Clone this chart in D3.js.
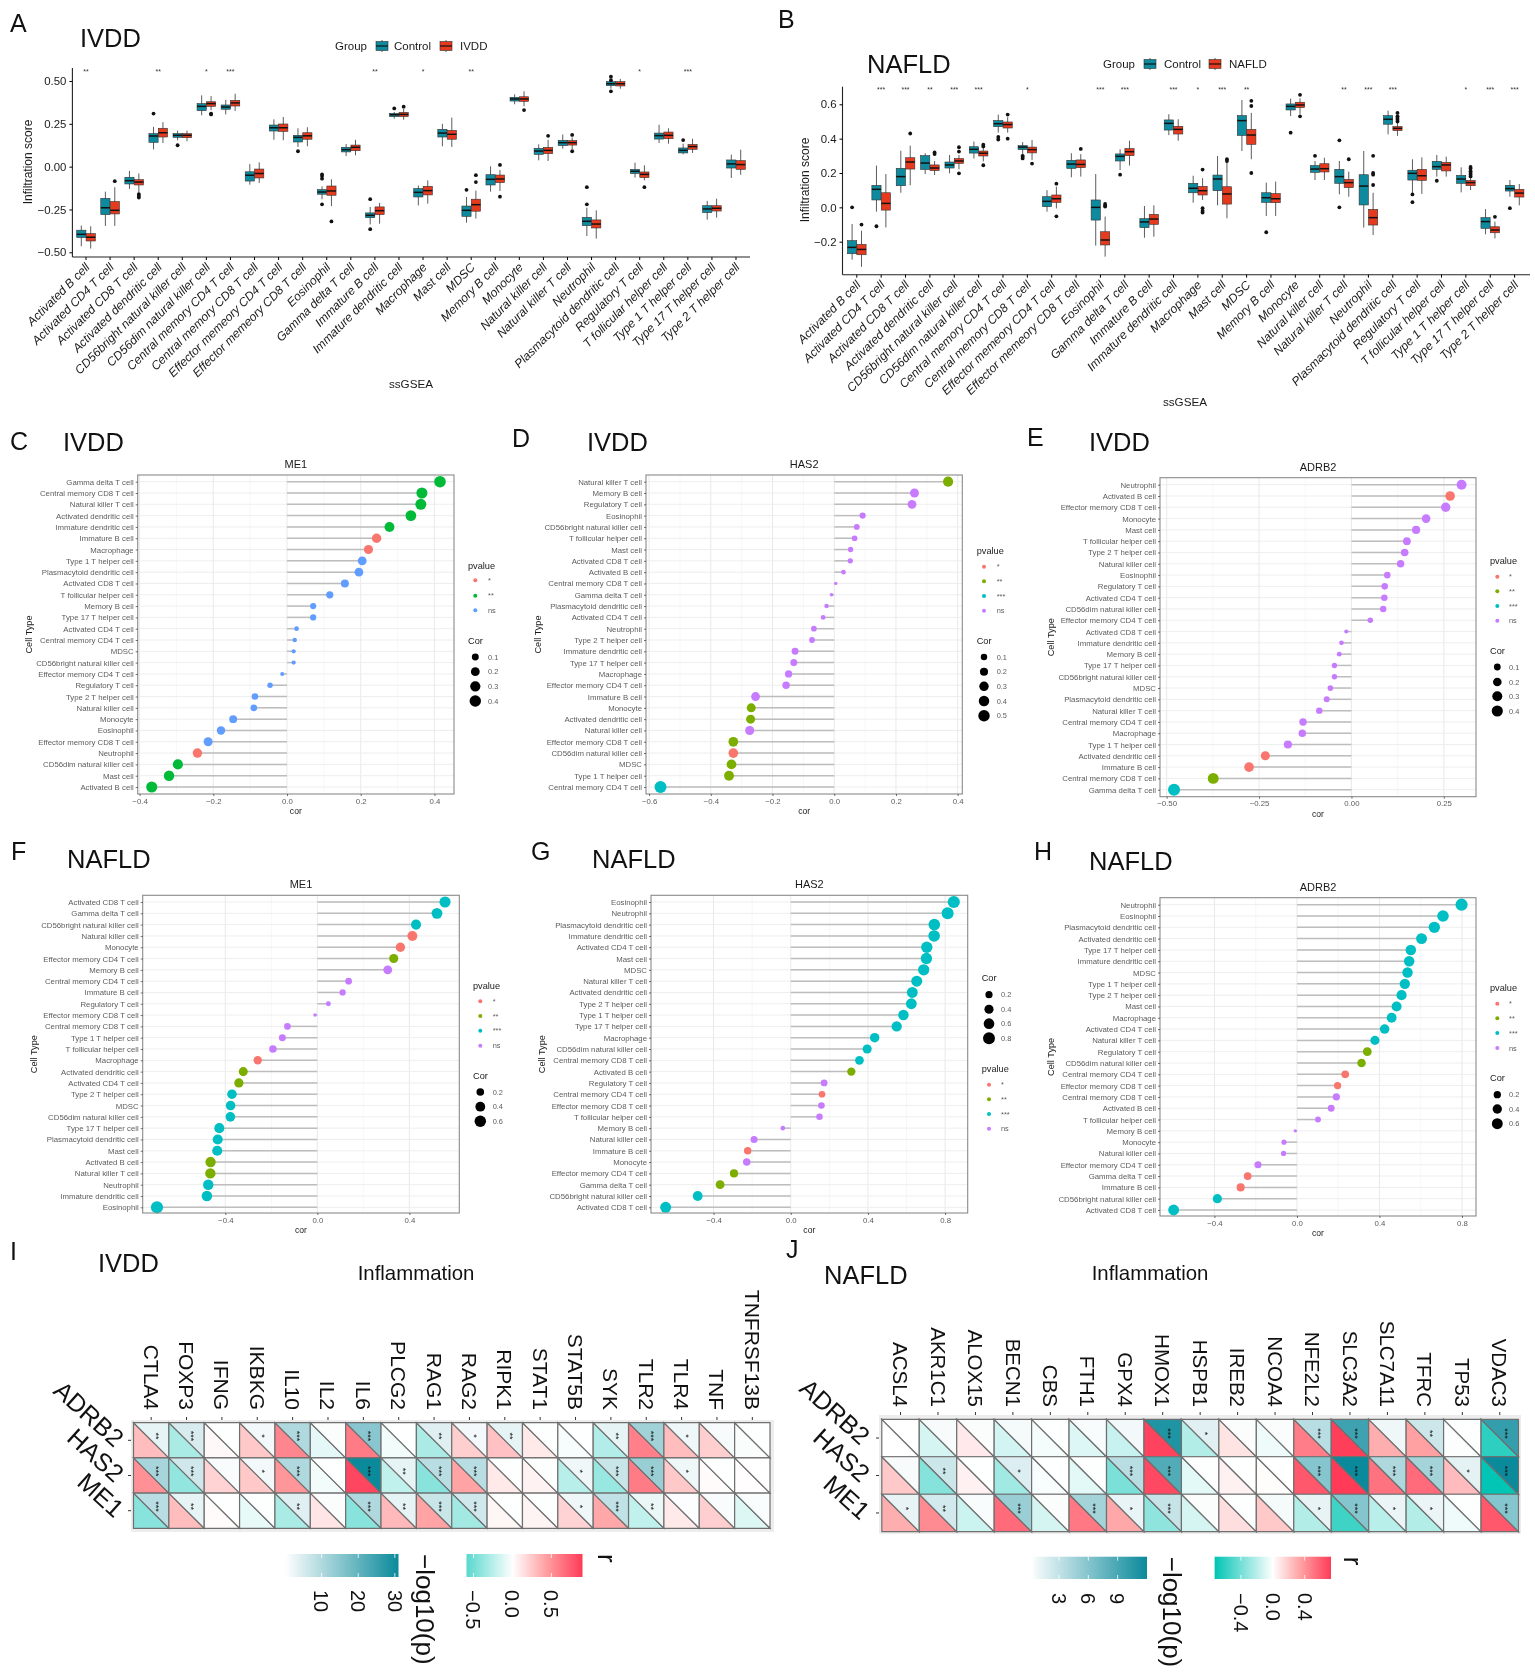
<!DOCTYPE html>
<html><head><meta charset="utf-8">
<style>
html,body{margin:0;padding:0;background:#fff}
svg{display:block;font-family:"Liberation Sans",Arial,sans-serif;filter:blur(0.6px)}
</style>
<script src="https://cdn.jsdelivr.net/npm/d3@7"></script></head><body>
<svg id="fig" width="1535" height="1679"></svg>
<script>
// ---------- Panels A / B: box plots ([low whisker, q1, median, q3, high whisker]) ----------
const cellTypes=["Activated B cell","Activated CD4 T cell","Activated CD8 T cell","Activated dendritic cell","CD56bright natural killer cell","CD56dim natural killer cell","Central memory CD4 T cell","Central memory CD8 T cell","Effector memeory CD4 T cell","Effector memeory CD8 T cell","Eosinophil","Gamma delta T cell","Immature  B cell","Immature dendritic cell","Macrophage","Mast cell","MDSC","Memory B cell","Monocyte","Natural killer cell","Natural killer T cell","Neutrophil","Plasmacytoid dendritic cell","Regulatory T cell","T follicular helper cell","Type 1 T helper cell","Type 17 T helper cell","Type 2 T helper cell"];
const boxA_control=[[-.465,-.414,-.395,-.371,-.344],[-.346,-.28,-.24,-.185,-.146],[-.13,-.101,-.082,-.062,-.025],[.101,.142,.179,.193,.232],[.154,.171,.183,.193,.21],[.30,.327,.352,.368,.416],[.305,.335,.348,.36,.39],[-.105,-.084,-.05,-.03,.015],[.157,.208,.227,.243,.276],[.115,.144,.171,.183,.224],[-.19,-.161,-.148,-.134,-.115],[.062,.086,.099,.113,.132],[-.337,-.298,-.284,-.27,-.235],[.28,.292,.303,.311,.319],[-.226,-.177,-.15,-.128,-.11],[.119,.173,.196,.218,.25],[-.327,-.29,-.255,-.23,-.177],[-.146,-.107,-.074,-.047,.002],[.364,.383,.395,.405,.422],[.037,.072,.091,.107,.13],[.105,.123,.14,.154,.188],[-.405,-.344,-.319,-.296,-.24],[.455,.473,.484,.496,.508],[-.064,-.04,-.027,-.016,.023],[.138,.161,.181,.196,.245],[.072,.08,.095,.109,.134],[-.309,-.268,-.247,-.228,-.2],[-.066,-.008,.016,.039,.07]];
const boxA_ivdd=[[-.478,-.434,-.412,-.391,-.348],[-.346,-.276,-.255,-.204,-.12],[-.15,-.107,-.09,-.076,-.04],[.138,.173,.198,.224,.26],[.148,.169,.183,.193,.21],[.33,.352,.368,.379,.412],[.325,.354,.372,.387,.426],[-.095,-.066,-.04,-.014,.025],[.154,.206,.227,.249,.29],[.119,.16,.18,.198,.23],[-.23,-.167,-.142,-.113,-.074],[.066,.093,.113,.126,.157],[-.333,-.28,-.257,-.235,-.212],[.274,.292,.305,.317,.338],[-.216,-.165,-.14,-.115,-.08],[.115,.16,.189,.212,.286],[-.303,-.26,-.222,-.19,-.14],[-.142,-.093,-.072,-.049,-.02],[.352,.381,.395,.408,.44],[.033,.076,.095,.113,.157],[.103,.126,.14,.152,.17],[-.42,-.358,-.335,-.311,-.255],[.455,.471,.484,.496,.512],[-.08,-.064,-.045,-.031,.008],[.134,.163,.183,.202,.224],[.08,.101,.117,.13,.163],[-.298,-.259,-.243,-.228,-.187],[-.047,-.016,.012,.035,.099]];
const outA_control=[[],[],[],[.31],[.125],[],[],[],[],[.09],[-.045,-.055,-.07,-.22],[],[-.19,-.365],[.34],[],[],[-.135],[],[],[],[],[-.12,-.22],[.525,.505,.44],[],[],[.155],[],[]];
const outA_ivdd=[[],[-.085],[-.16,-.17,-.18],[],[],[.31,.305],[],[],[],[],[-.32],[],[],[.35],[],[],[-.05,-.09],[.01,-.175],[.33],[.18],[.185,.09],[],[],[-.12],[],[],[],[]];
const sigA=["**","","","**","","*","***","","","","","","**","","*","","**","","","","","","","*","","***","",""];
const boxB_control=[[-.305,-.27,-.233,-.194,-.097],[-.025,.043,.105,.128,.243],[.085,.126,.179,.227,.33],[.194,.221,.258,.301,.315],[.198,.229,.247,.264,.305],[.284,.316,.338,.353,.383],[.435,.47,.487,.505,.54],[.305,.336,.351,.359,.38],[-.025,.004,.035,.062,.1],[.175,.227,.252,.274,.315],[-.223,-.074,0,.043,.194],[.217,.27,.297,.311,.338],[-.177,-.118,-.085,-.066,.008],[.421,.45,.489,.509,.542],[.027,.085,.111,.14,.184],[.012,.097,.165,.188,.299],[.328,.419,.505,.534,.625],[-.05,.029,.056,.085,.144],[.532,.567,.588,.602,.633],[.159,.204,.223,.243,.27],[.076,.14,.179,.221,.27],[-.118,.014,.124,.19,.328],[.425,.484,.513,.534,.563],[.082,.159,.198,.216,.28],[.179,.221,.237,.268,.305],[.087,.14,.165,.186,.233],[-.157,-.122,-.083,-.06,-.01],[.062,.095,.109,.128,.159]];
const boxB_nafld=[[-.346,-.276,-.245,-.216,-.136],[-.117,-.016,.023,.085,.194],[.128,.223,.264,.289,.359],[.188,.214,.229,.247,.27],[.221,.256,.27,.284,.305],[.268,.299,.315,.328,.353],[.435,.462,.482,.497,.525],[.276,.317,.336,.351,.392],[-.006,.029,.05,.072,.12],[.179,.231,.25,.276,.31],[-.287,-.219,-.19,-.142,-.054],[.243,.301,.324,.342,.388],[-.171,-.099,-.068,-.041,.012],[.388,.427,.454,.472,.513],[.043,.072,.097,.122,.17],[-.064,.019,.078,.12,.27],[.28,.367,.421,.454,.55],[-.05,.027,.05,.08,.15],[.544,.581,.596,.612,.635],[.159,.206,.225,.254,.289],[.062,.115,.144,.163,.208],[-.161,-.103,-.06,-.012,.085],[.416,.447,.46,.47,.49],[.078,.157,.184,.221,.291],[.179,.212,.247,.262,.295],[.101,.126,.144,.157,.179],[-.181,-.148,-.132,-.113,-.083],[.012,.06,.083,.105,.136]];
const outB_control=[[0],[-.11],[],[],[],[],[.395,.41],[.285,.295,.3],[],[],[],[.19],[],[],[],[],[],[-.145],[.435],[.3],[.39,0],[],[],[.075,.03],[.155],[],[],[-.005]];
const outB_nafld=[[-.1],[],[.43],[.32,.31],[.35,.325,.198],[.365,.355,.245],[.54,.4],[.255],[.138,-.052],[.34],[.02,.01,.005],[],[],[],[.22,-.005,-.02,-.03],[.28,.27],[.62,.59,.2],[],[.655,.53],[],[.28],[.3,.2,.19,.13],[.55,.53,.52,.51,.5],[],[],[.235,.225,.21,.2,.19,.18],[-.055],[]];
const sigB=["","***","***","**","***","***","","*","","","***","***","","***","*","***","**","","","","**","***","***","","","*","***","***"];

// ---------- Panels C-H: lollipops (names, correlation, significance) ----------
const namesC=["Gamma delta T cell","Central memory CD8 T cell","Natural killer T cell","Activated dendritic cell","Immature dendritic cell","Immature  B cell","Macrophage","Type 1 T helper cell","Plasmacytoid dendritic cell","Activated CD8 T cell","T follicular helper cell","Memory B cell","Type 17 T helper cell","Activated CD4 T cell","Central memory CD4 T cell","MDSC","CD56bright natural killer cell","Effector memory CD4 T cell","Regulatory T cell","Type 2 T helper cell","Natural killer cell","Monocyte","Eosinophil","Effector memory CD8 T cell","Neutrophil","CD56dim natural killer cell","Mast cell","Activated B cell"];
const corC=[.415,.366,.363,.336,.278,.243,.221,.204,.195,.157,.116,.071,.071,.026,.021,.018,.018,-.013,-.046,-.087,-.09,-.146,-.179,-.214,-.243,-.296,-.32,-.367];
const sigC=["**","**","**","**","**","*","*","ns","ns","ns","ns","ns","ns","ns","ns","ns","ns","ns","ns","ns","ns","ns","ns","ns","*","**","**","**"];
const namesD=["Natural killer T cell","Memory B cell","Regulatory T cell","Eosinophil","CD56bright natural killer cell","T follicular helper cell","Mast cell","Activated CD8 T cell","Activated B cell","Central memory CD8 T cell","Gamma delta T cell","Plasmacytoid dendritic cell","Activated CD4 T cell","Neutrophil","Type 2 T helper cell","Immature dendritic cell","Type 17 T helper cell","Macrophage","Effector memory CD4 T cell","Immature  B cell","Monocyte","Activated dendritic cell","Natural killer cell","Effector memory CD8 T cell","CD56dim natural killer cell","MDSC","Type 1 T helper cell","Central memory CD4 T cell"];
const corD=[.369,.26,.252,.092,.073,.066,.053,.052,.03,.005,-.009,-.025,-.036,-.066,-.072,-.127,-.131,-.148,-.156,-.255,-.269,-.271,-.274,-.327,-.327,-.333,-.341,-.563];
const sigD=["**","ns","ns","ns","ns","ns","ns","ns","ns","ns","ns","ns","ns","ns","ns","ns","ns","ns","ns","ns","**","**","ns","**","*","**","**","***"];
const namesE=["Neutrophil","Activated B cell","Effector memory CD8 T cell","Monocyte","Mast cell","T follicular helper cell","Type 2 T helper cell","Natural killer cell","Eosinophil","Regulatory T cell","Activated CD4 T cell","CD56dim natural killer cell","Effector memory CD4 T cell","Activated CD8 T cell","Immature dendritic cell","Memory B cell","Type 17 T helper cell","CD56bright natural killer cell","MDSC","Plasmacytoid dendritic cell","Natural killer T cell","Central memory CD4 T cell","Macrophage","Type 1 T helper cell","Activated dendritic cell","Immature  B cell","Central memory CD8 T cell","Gamma delta T cell"];
const corE=[.298,.267,.255,.202,.175,.15,.144,.133,.097,.09,.089,.086,.051,-.014,-.027,-.033,-.046,-.046,-.057,-.067,-.087,-.131,-.133,-.172,-.233,-.277,-.374,-.48];
const sigE=["ns","*","ns","ns","ns","ns","ns","ns","ns","ns","ns","ns","ns","ns","ns","ns","ns","ns","ns","ns","ns","ns","ns","ns","*","*","**","***"];
const namesF=["Activated CD8 T cell","Gamma delta T cell","CD56bright natural killer cell","Natural killer cell","Monocyte","Effector memory CD4 T cell","Memory B cell","Central memory CD4 T cell","Immature  B cell","Regulatory T cell","Effector memory CD8 T cell","Central memory CD8 T cell","Type 1 T helper cell","T follicular helper cell","Macrophage","Activated dendritic cell","Activated CD4 T cell","Type 2 T helper cell","MDSC","CD56dim natural killer cell","Type 17 T helper cell","Plasmacytoid dendritic cell","Mast cell","Activated B cell","Natural killer T cell","Neutrophil","Immature dendritic cell","Eosinophil"];
const corF=[.555,.52,.429,.413,.361,.332,.306,.136,.11,.048,-.01,-.13,-.152,-.193,-.259,-.322,-.341,-.371,-.377,-.378,-.426,-.433,-.435,-.464,-.465,-.474,-.48,-.697];
const sigF=["***","***","***","*","*","**","ns","ns","ns","ns","ns","ns","ns","ns","*","**","**","***","***","***","***","***","***","**","**","***","***","***"];
const namesG=["Eosinophil","Neutrophil","Plasmacytoid dendritic cell","Immature dendritic cell","Activated CD4 T cell","Mast cell","MDSC","Natural killer T cell","Activated dendritic cell","Type 2 T helper cell","Type 1 T helper cell","Type 17 T helper cell","Macrophage","CD56dim natural killer cell","Central memory CD8 T cell","Activated B cell","Regulatory T cell","Central memory CD4 T cell","Effector memory CD8 T cell","T follicular helper cell","Memory B cell","Natural killer cell","Immature  B cell","Monocyte","Effector memory CD4 T cell","Gamma delta T cell","CD56bright natural killer cell","Activated CD8 T cell"];
const corG=[.845,.813,.744,.743,.705,.703,.689,.653,.63,.625,.584,.549,.435,.396,.356,.314,.173,.162,.159,.149,-.041,-.19,-.223,-.228,-.294,-.366,-.482,-.648];
const sigG=["***","***","***","***","***","***","***","***","***","***","***","***","***","***","***","**","ns","*","ns","ns","ns","ns","*","ns","**","**","***","***"];
const namesH=["Neutrophil","Eosinophil","Plasmacytoid dendritic cell","Activated dendritic cell","Type 17 T helper cell","Immature dendritic cell","MDSC","Type 1 T helper cell","Type 2 T helper cell","Mast cell","Macrophage","Activated CD4 T cell","Natural killer T cell","Regulatory T cell","CD56dim natural killer cell","Central memory CD4 T cell","Effector memory CD8 T cell","Central memory CD8 T cell","Activated B cell","T follicular helper cell","Memory B cell","Monocyte","Natural killer cell","Effector memory CD4 T cell","Gamma delta T cell","Immature  B cell","CD56bright natural killer cell","Activated CD8 T cell"];
const corH=[.798,.708,.666,.604,.552,.544,.536,.523,.507,.483,.459,.425,.378,.341,.313,.234,.197,.191,.166,.102,-.008,-.063,-.065,-.189,-.239,-.273,-.386,-.598];
const sigH=["***","***","***","***","***","***","***","***","***","***","***","***","***","**","**","*","*","ns","ns","ns","ns","ns","ns","ns","*","*","***","***"];

// ---------- Panels I / J: triangle heatmaps ----------
const rowsHeat=["ADRB2","HAS2","ME1"];
const genesI=["CTLA4","FOXP3","IFNG","IKBKG","IL10","IL2","IL6","PLCG2","RAG1","RAG2","RIPK1","STAT1","STAT5B","SYK","TLR2","TLR4","TNF","TNFRSF13B"];
const rI=[[.3,-.3,.03,.25,.55,-.1,.6,-.05,-.3,.22,.28,.1,-.03,-.27,.58,.3,.22,-.02],[.5,-.38,.2,.25,.48,-.05,.85,-.22,-.42,.42,.1,.06,-.25,-.36,.6,.25,.02,.01],[-.42,.3,.02,-.08,-.3,.12,-.42,.32,.42,-.33,.04,.05,.2,.4,-.22,.1,.22,-.12]];
const pI=[[3,5,.1,1.5,10,.5,15,.1,4,1.5,3,.3,.1,3,12,2,1,.1],[11,6,.8,1.5,10,.1,32,3,9,9,.3,.2,2,7,13,2,.1,.05],[9,3,.1,.2,4,.5,10,3,7,6,.1,.2,2,8,2.5,.4,.8,.6]];
const starsI=[["**","***","","*","***","","***","","**","*","**","","","**","***","*","",""],["***","***","","*","***","","***","**","***","***","","","*","***","***","*","",""],["***","**","","","**","","***","**","***","***","","","*","***","**","","",""]];
const genesJ=["ACSL4","AKR1C1","ALOX15","BECN1","CBS","FTH1","GPX4","HMOX1","HSPB1","IREB2","NCOA4","NFE2L2","SLC3A2","SLC7A11","TFRC","TP53","VDAC3"];
const rJ=[[0,-.12,.08,-.13,-.03,-.1,-.16,.7,-.22,.1,-.05,.48,.72,.3,.35,-.01,-.6],[.2,-.35,.05,-.27,-.02,-.08,-.38,.68,-.08,.05,.01,.62,.73,.52,.55,.25,-.72],[.3,.43,-.15,.55,-.12,.5,.32,-.32,-.12,.12,.2,-.22,-.55,-.2,-.22,-.05,.62]];
const pJ=[[0,.4,.2,.5,.05,.3,.6,11,1.5,.2,.2,3.5,9.5,.8,2.5,.03,10],[.4,2.5,.05,1.7,.03,.1,3.5,8.5,.1,.05,.01,6,12,4,4.5,1.3,12],[1.2,2.2,.3,5,.2,4.5,1.1,2.8,.2,.1,.5,1.2,6,1,1,.1,6]];
const starsJ=[["","","","","","","","***","*","","","***","***","","**","","***"],["","**","","*","","","***","***","","","","***","***","***","***","*","***"],["*","**","","***","","***","*","***","","","","*","***","*","*","","***"]];

const svg=d3.select("#fig");
const FG="#1a1a1a", GREY="#5c5c5c";
function label(x,y,t,size,opt={}){
  return svg.append("text").attr("x",x).attr("y",y).text(t).attr("font-size",size)
    .attr("fill",opt.fill||"#111").attr("text-anchor",opt.anchor||"start")
    .attr("transform",opt.rot!=null?`rotate(${opt.rot} ${x} ${y})`:null);
}
// panel letters and disease headers
[["A",10,32],["B",778,28],["C",10,450],["D",512,447],["E",1027,446],["F",11,860],["G",531,860],["H",1034,860],["I",10,1260],["J",786,1258]].forEach(d=>label(d[1],d[2],d[0],25));
[["IVDD",80,47],["NAFLD",867,73],["IVDD",63,451],["IVDD",587,451],["IVDD",1089,451],["NAFLD",67,868],["NAFLD",592,868],["NAFLD",1089,870],["IVDD",98,1272],["NAFLD",824,1284]].forEach(d=>label(d[1],d[2],d[0],25.5));

// ---------- box plots ----------
const TEAL="#0e8a9e";
function boxPanel(o){
  const g=svg.append("g");
  const x=d3.scaleBand().domain(cellTypes).range([o.cx0-o.step/2,o.cx1+o.step/2]);
  const y=d3.scaleLinear().domain(o.yDom).range(o.yRange);
  const yAxis=g.append("g").attr("transform",`translate(${o.left},0)`).call(d3.axisLeft(y).tickValues(o.ticks).tickFormat(d3.format(o.fmt)).tickSize(3).tickSizeOuter(0));
  yAxis.select(".domain").attr("d",`M0,${o.top}V${o.bottom}`).attr("stroke","#222").attr("stroke-width",1.1);
  yAxis.selectAll("text").attr("font-size",11.4).attr("fill",FG).attr("font-family","inherit");
  const xAxis=g.append("g").attr("transform",`translate(0,${o.bottom})`).call(d3.axisBottom(x).tickSize(3).tickSizeOuter(0));
  xAxis.select(".domain").attr("d",`M${o.left},0H${o.right}`).attr("stroke","#222").attr("stroke-width",1.1);
  xAxis.selectAll("text").attr("font-size",12.1).attr("font-style","italic").attr("fill",FG).attr("font-family","inherit")
    .attr("text-anchor","end").attr("dy",0).attr("y",0).attr("transform","translate(4.5,11) rotate(-45)");
  const bw=9.2;
  [[o.c,o.cOut,-4.7,TEAL],[o.d,o.dOut,4.7,"#e63a1f"]].forEach(([rows,outs,off,col])=>{
    cellTypes.forEach((ct,i)=>{
      const cx=x(ct)+x.bandwidth()/2+off, r=rows[i];
      const s=g.append("g");
      s.append("line").attr("x1",cx).attr("x2",cx).attr("y1",y(r[0])).attr("y2",y(r[4])).attr("stroke","#333").attr("stroke-width",.8);
      s.append("rect").attr("x",cx-bw/2).attr("width",bw).attr("y",y(r[3])).attr("height",y(r[1])-y(r[3])).attr("fill",col).attr("stroke","#333").attr("stroke-width",.6);
      s.append("line").attr("x1",cx-bw/2).attr("x2",cx+bw/2).attr("y1",y(r[2])).attr("y2",y(r[2])).attr("stroke","#111").attr("stroke-width",1.5);
      s.selectAll("circle").data(outs[i]).join("circle").attr("cx",cx).attr("cy",d=>y(d)).attr("r",1.9).attr("fill","#111");
    });
  });
  cellTypes.forEach((ct,i)=>{ if(o.sig[i]) g.append("text").attr("x",x(ct)+x.bandwidth()/2).attr("y",o.sigY).attr("text-anchor","middle").attr("font-size",7).attr("fill","#333").text(o.sig[i]); });
  label(o.ylX,o.ylY,"Infiltration score",12,{anchor:"middle",rot:-90,fill:FG});
  label(o.xlX,o.xlY,"ssGSEA",11.7,{anchor:"middle",fill:FG});
  // legend
  label(o.leg.group,o.leg.y+4,"Group",11.5,{fill:FG});
  [[o.leg.k1,TEAL,"Control",o.leg.t1],[o.leg.k2,"#e63a1f",o.name,o.leg.t2]].forEach(([kx,col,t,tx])=>{
    const ky=o.leg.y;
    g.append("line").attr("x1",kx+6).attr("x2",kx+6).attr("y1",ky-6).attr("y2",ky+6).attr("stroke","#333").attr("stroke-width",.8);
    g.append("rect").attr("x",kx).attr("y",ky-4.5).attr("width",12).attr("height",9).attr("fill",col).attr("stroke","#333").attr("stroke-width",.6);
    g.append("line").attr("x1",kx).attr("x2",kx+12).attr("y1",ky).attr("y2",ky).attr("stroke","#111").attr("stroke-width",1.2);
    label(tx,ky+4,t,11.5,{fill:FG});
  });
}
boxPanel({name:"IVDD",c:boxA_control,d:boxA_ivdd,cOut:outA_control,dOut:outA_ivdd,sig:sigA,cx0:86,cx1:736,step:24.07,yDom:[-.5,.5],yRange:[252.3,81],ticks:[-.5,-.25,0,.25,.5],fmt:".2f",left:72.4,right:750,top:68,bottom:257,sigY:74,ylX:32,ylY:162,xlX:411,xlY:388,leg:{y:46,group:335,k1:376,t1:394,k2:440,t2:460}});
boxPanel({name:"NAFLD",c:boxB_control,d:boxB_nafld,cOut:outB_control,dOut:outB_nafld,sig:sigB,cx0:856.8,cx1:1514.6,step:24.36,yDom:[-.2,.6],yRange:[241.7,104.3],ticks:[-.2,0,.2,.4,.6],fmt:".1f",left:842.5,right:1530,top:86.7,bottom:274.7,sigY:91.5,ylX:809,ylY:180,xlX:1185,xlY:406,leg:{y:64,group:1103,k1:1144,t1:1164,k2:1209,t2:1229}});

// ---------- lollipops ----------
const col3={"*":"#F8766D","**":"#00BA38","ns":"#619CFF"};
const col4={"*":"#F8766D","**":"#7CAE00","***":"#00BFC4","ns":"#C77CFF"};
function lollipop(o){
  const g=svg.append("g");
  const x=d3.scaleLinear().domain(o.dom).range([o.x0,o.x1]);
  const y=d3.scalePoint().domain(o.names).range([o.r0,o.r1]);
  const size=d3.scaleSqrt().domain([0,d3.max(o.cor,Math.abs)]).range([1.2,o.rmax+.1]);
  const minor=o.ticks.slice(0,-1).map((t,i)=>(t+o.ticks[i+1])/2);
  g.selectAll(".mi").data(minor).join("line").attr("x1",x).attr("x2",x).attr("y1",o.y0).attr("y2",o.y1).attr("stroke","#f2f2f2").attr("stroke-width",.6);
  g.selectAll(".gx").data(o.ticks).join("line").attr("x1",x).attr("x2",x).attr("y1",o.y0).attr("y2",o.y1).attr("stroke","#e6e6e6").attr("stroke-width",.9);
  g.selectAll(".gy").data(o.names).join("line").attr("x1",o.x0).attr("x2",o.x1).attr("y1",y).attr("y2",y).attr("stroke","#ececec").attr("stroke-width",.9);
  o.names.forEach((n,i)=>{
    g.append("line").attr("x1",x(0)).attr("x2",x(o.cor[i])).attr("y1",y(n)).attr("y2",y(n)).attr("stroke","#bdbdbd").attr("stroke-width",1.5);
    g.append("circle").attr("cx",x(o.cor[i])).attr("cy",y(n)).attr("r",size(Math.abs(o.cor[i]))).attr("fill",o.pal[o.sig[i]]);
  });
  g.append("rect").attr("x",o.x0).attr("y",o.y0).attr("width",o.x1-o.x0).attr("height",o.y1-o.y0).attr("fill","none").attr("stroke","#8a8a8a").attr("stroke-width",1.1);
  const ya=g.append("g").attr("transform",`translate(${o.x0},0)`).call(d3.axisLeft(y).tickSize(2).tickPadding(2));
  ya.select(".domain").remove();
  ya.selectAll("text").attr("font-size",7.8).attr("fill",GREY).attr("font-family","inherit");
  ya.selectAll("line").attr("stroke","#333").attr("stroke-width",.7);
  const xa=g.append("g").attr("transform",`translate(0,${o.y1})`).call(d3.axisBottom(x).tickValues(o.ticks).tickFormat(d3.format(o.fmt)).tickSize(2).tickPadding(2));
  xa.select(".domain").remove();
  xa.selectAll("text").attr("font-size",7.8).attr("fill",GREY).attr("font-family","inherit");
  xa.selectAll("line").attr("stroke","#333").attr("stroke-width",.7);
  const cx=(o.x0+o.x1)/2;
  label(cx,o.y0-7,o.title,11,{anchor:"middle",fill:FG});
  label(cx,o.y1+20,"cor",8.6,{anchor:"middle",fill:FG});
  label(o.x0-105.5,(o.y0+o.y1)/2,"Cell Type",9.2,{anchor:"middle",rot:-90,fill:FG});
  // legends
  const L=o.leg;
  label(L.tx,L.py+3,"pvalue",9.2,{fill:FG});
  L.pRows.forEach((py,i)=>{
    const k=Object.keys(o.pal)[i];
    g.append("circle").attr("cx",L.kx).attr("cy",py).attr("r",2).attr("fill",o.pal[k]);
    label(L.lx,py+2.6,k,7.4,{fill:GREY});
  });
  label(L.tx,L.cy+3,"Cor",9.2,{fill:FG});
  L.cRows.forEach((cyy,i)=>{
    g.append("circle").attr("cx",L.kx).attr("cy",cyy).attr("r",size(L.cVals[i])).attr("fill","#000");
    label(L.lx,cyy+2.7,d3.format(".1f")(L.cVals[i]),7.4,{fill:GREY});
  });
}
lollipop({title:"ME1",names:namesC,cor:corC,sig:sigC,pal:col3,dom:[-.405,.453],ticks:[-.4,-.2,0,.2,.4],fmt:".1f",x0:137.7,x1:454,y0:475,y1:794,r0:481.7,r1:787,rmax:5.7,leg:{tx:468,kx:475.3,lx:488,py:565.7,pRows:[580.3,595.7,610.3],cy:641,cRows:[657,671.7,686.3,701],cVals:[.1,.2,.3,.4]}});
lollipop({title:"HAS2",names:namesD,cor:corD,sig:sigD,pal:col4,dom:[-.61,.415],ticks:[-.6,-.4,-.2,0,.2,.4],fmt:".1f",x0:646,x1:962.3,y0:475,y1:794,r0:481.7,r1:787,rmax:5.9,leg:{tx:976.7,kx:984,lx:996.7,py:551,pRows:[566.7,581.3,596,610.7],cy:641,cRows:[657,671.7,686.3,701,715.7],cVals:[.1,.2,.3,.4,.5]}});
lollipop({title:"ADRB2",names:namesE,cor:corE,sig:sigE,pal:col4,dom:[-.518,.337],ticks:[-.5,-.25,0,.25],fmt:".2f",x0:1160,x1:1476,y0:477.7,y1:796.7,r0:484.7,r1:789.7,rmax:5.9,leg:{tx:1490,kx:1497.3,lx:1509,py:561,pRows:[576.7,591.3,606,620.7],cy:651,cRows:[667,682,696.3,711],cVals:[.1,.2,.3,.4]}});
lollipop({title:"ME1",names:namesF,cor:corF,sig:sigF,pal:col4,dom:[-.759,.617],ticks:[-.4,0,.4],fmt:".1f",x0:142.7,x1:459.3,y0:895.3,y1:1213,r0:902,r1:1207.3,rmax:6,leg:{tx:473,kx:480.3,lx:492.7,py:985.7,pRows:[1001.3,1016,1030.7,1045.7],cy:1075.7,cRows:[1092,1106.7,1121.3],cVals:[.2,.4,.6]}});
lollipop({title:"HAS2",names:namesG,cor:corG,sig:sigG,pal:col4,dom:[-.724,.917],ticks:[-.4,0,.4,.8],fmt:".1f",x0:651,x1:967.7,y0:895.3,y1:1213,r0:902,r1:1207.3,rmax:6,leg:{tx:981.7,kx:989,lx:1001,py:1069,pRows:[1084.7,1099.3,1114,1128.7],cy:978.3,cRows:[994.7,1009.3,1023.7,1038.3],cVals:[.2,.4,.6,.8]}});
lollipop({title:"ADRB2",names:namesH,cor:corH,sig:sigH,pal:col4,dom:[-.664,.868],ticks:[-.4,0,.4,.8],fmt:".1f",x0:1160,x1:1476,y0:897.7,y1:1216,r0:904.7,r1:1210,rmax:6,leg:{tx:1490,kx:1497.3,lx:1509,py:988.3,pRows:[1003.7,1018.3,1033,1048],cy:1078.3,cRows:[1094.7,1109,1123.7],cVals:[.2,.4,.6]}});

// ---------- heatmaps ----------
let gid=0;
function heat(o){
  const g=svg.append("g");
  const x=d3.scaleBand().domain(o.genes).range([o.x0,o.x1]);
  const y=d3.scaleBand().domain(rowsHeat).range([o.y0,o.y1]);
  const rScale=d3.scaleLinear().domain([-o.rMax,0,o.rMax*.5,o.rMax]).range(["#00c4b4","#ffffff","#ff9c9e","#ff3b58"]);
  const pScale=d3.scaleLinear().domain([0,o.pMax]).range(["#ffffff","#0b8a9b"]).clamp(true);
  g.append("rect").attr("x",o.bg[0]).attr("y",o.bg[1]).attr("width",o.bg[2]-o.bg[0]).attr("height",o.bg[3]-o.bg[1]).attr("fill","#ededed");
  rowsHeat.forEach((row,ri)=>o.genes.forEach((gene,ci)=>{
    const X=x(gene),Y=y(row),w=x.bandwidth(),h=y.bandwidth();
    g.append("path").attr("d",`M${X},${Y}L${X},${Y+h}L${X+w},${Y+h}Z`).attr("fill",rScale(o.r[ri][ci])).attr("stroke","#6f6f6f").attr("stroke-width",1.2);
    g.append("path").attr("d",`M${X},${Y}L${X+w},${Y}L${X+w},${Y+h}Z`).attr("fill",pScale(o.p[ri][ci])).attr("stroke","#6f6f6f").attr("stroke-width",1.2);
    const st=o.stars[ri][ci];
    if(st){const sx=X+w*.69,sy=Y+h*.38;
      g.append("text").attr("x",sx).attr("y",sy).attr("font-size",9).attr("fill","#111").attr("text-anchor","middle").attr("dy","0.55em").attr("transform",`rotate(90 ${sx} ${sy})`).text(st);}
  }));
  o.genes.forEach(gene=>{
    const cx=x(gene)+x.bandwidth()/2;
    g.append("line").attr("x1",cx).attr("x2",cx).attr("y1",o.bg[1]-3).attr("y2",o.bg[1]).attr("stroke","#333").attr("stroke-width",1);
    g.append("text").attr("x",cx).attr("y",o.colEnd).attr("font-size",o.fs).attr("fill","#111").attr("text-anchor","end").attr("dy","0.36em").attr("transform",`rotate(90 ${cx} ${o.colEnd})`).text(gene);
  });
  rowsHeat.forEach(row=>{
    const cy=y(row)+y.bandwidth()/2;
    g.append("line").attr("x1",o.bg[0]-3).attr("x2",o.bg[0]).attr("y1",cy).attr("y2",cy).attr("stroke","#333").attr("stroke-width",1);
    const ax=o.bg[0]-o.rowDx,ay=cy+o.rowDy;
    g.append("text").attr("x",ax).attr("y",ay).attr("font-size",o.rowFs).attr("fill","#111").attr("text-anchor","end").attr("transform",`rotate(42 ${ax} ${ay})`).text(row);
  });
  label(o.titleX,1280,"Inflammation",20.4,{anchor:"middle"});
  // legend bars
  const defs=svg.append("defs");
  const bar=(bx0,bx1,dom,scale,ticks,fmt)=>{
    const id="grad"+(gid++);
    const lg=defs.append("linearGradient").attr("id",id);
    d3.range(0,1.001,.1).forEach(t=>lg.append("stop").attr("offset",t).attr("stop-color",scale(dom[0]+(dom[1]-dom[0])*t)));
    g.append("rect").attr("x",bx0).attr("width",bx1-bx0).attr("y",o.barY[0]).attr("height",o.barY[1]-o.barY[0]).attr("fill",`url(#${id})`);
    const bs=d3.scaleLinear().domain(dom).range([bx0,bx1]);
    ticks.forEach(t=>{
      const tx=bs(t);
      g.append("line").attr("x1",tx).attr("x2",tx).attr("y1",o.barY[0]).attr("y2",o.barY[0]+4).attr("stroke","#fff").attr("stroke-width",.8);
      g.append("line").attr("x1",tx).attr("x2",tx).attr("y1",o.barY[1]-4).attr("y2",o.barY[1]).attr("stroke","#fff").attr("stroke-width",.8);
      g.append("text").attr("x",tx).attr("y",o.tickTop).attr("font-size",20).attr("fill","#111").attr("dy","0.36em").attr("transform",`rotate(90 ${tx} ${o.tickTop})`).text(d3.format(fmt)(t));
    });
  };
  bar(o.pBar[0],o.pBar[1],[o.pBar[2],o.pBar[3]],pScale,o.pTicks,"d");
  bar(o.rBar[0],o.rBar[1],[o.rBar[2],o.rBar[3]],rScale,o.rTicks,".1f");
  g.append("text").attr("x",o.pTitleX).attr("y",o.barY[0]).attr("font-size",26).attr("fill","#111").attr("dy","0.36em").attr("transform",`rotate(90 ${o.pTitleX} ${o.barY[0]})`).text("\u2212log10(p)");
  g.append("text").attr("x",o.rTitleX).attr("y",o.barY[0]).attr("font-size",26).attr("fill","#111").attr("dy","0.36em").attr("transform",`rotate(90 ${o.rTitleX} ${o.barY[0]})`).text("r");
}
heat({genes:genesI,r:rI,p:pI,stars:starsI,x0:133.5,x1:770,y0:1422.7,y1:1528.3,bg:[131,1420,774,1532],colEnd:1410,fs:21,rowFs:25,rowDy:8,rowDx:17,rMax:.9,pMax:31,titleX:416,barY:[1554,1577],tickTop:1590,pBar:[285,398.5,0,31],rBar:[466.5,582.5,-.59,.9],pTicks:[10,20,30],rTicks:[-.5,0,.5],pTitleX:425,rTitleX:607});
heat({genes:genesJ,r:rJ,p:pJ,stars:starsJ,x0:881.8,x1:1518.5,y0:1419.3,y1:1531.7,bg:[879,1415,1521,1534],colEnd:1407,fs:20.5,rowFs:25,rowDy:8,rowDx:19,rMax:.73,pMax:12,titleX:1150,barY:[1556.7,1579],tickTop:1593,pBar:[1033,1147,.35,12],rBar:[1214.6,1331,-.73,.73],pTicks:[3,6,9],rTicks:[-.4,0,.4],pTitleX:1172,rTitleX:1353});
</script></body></html>
